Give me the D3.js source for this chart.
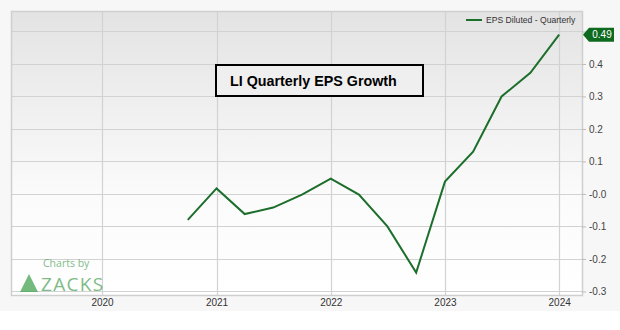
<!DOCTYPE html>
<html>
<head>
<meta charset="utf-8">
<script src="https://cdn.jsdelivr.net/npm/d3@7/dist/d3.min.js"></script>
<style>
  html, body { margin: 0; padding: 0; background: #ffffff; }
  svg { display: block; font-family: "Liberation Sans", Arial, sans-serif; }
</style>
</head>
<body>
<svg id="chart" width="620" height="330"></svg>
<script>
// ---- data ----
const quarters = ["2020-10-01","2021-01-01","2021-04-01","2021-07-01","2021-10-01","2022-01-01","2022-04-01","2022-07-01","2022-10-01","2023-01-01","2023-04-01","2023-07-01","2023-10-01","2024-01-01"];
const epsValues = [-0.08, 0.017, -0.062, -0.042, -0.002, 0.047, -0.002, -0.10, -0.242, 0.038, 0.13, 0.30, 0.373, 0.49];
const yearTicks = ["2020","2021","2022","2023","2024"];
const yTickValues = [0.5, 0.4, 0.3, 0.2, 0.1, 0.0, -0.1, -0.2, -0.3];
const yTickLabels = ["", "0.4","0.3","0.2","0.1","-0.0","-0.1","-0.2","-0.3"];
const seriesName = "EPS Diluted - Quarterly";
const chartTitle = "LI Quarterly EPS Growth";
const lastLabel = "0.49";

const svg = d3.select("#chart");
const W = 620, H = 330;
const plot = {left: 11, top: 11, right: 582, bottom: 295};
const green = "#1c6e2b";
const parse = d3.timeParse("%Y-%m-%d");

// page background
svg.append("rect").attr("x",0).attr("y",0).attr("width",W).attr("height",311).attr("fill","#f7f7f7");

const defs = svg.append("defs");
const grad = defs.append("linearGradient").attr("id","bg").attr("x1",0).attr("y1",0).attr("x2",0).attr("y2",1);
grad.append("stop").attr("offset","0%").attr("stop-color","#e3e3e3");
grad.append("stop").attr("offset","65%").attr("stop-color","#fbfbfb");
grad.append("stop").attr("offset","100%").attr("stop-color","#ffffff");

const x = d3.scaleTime()
  .domain([new Date(2019,2,16), new Date(2024,2,14)])
  .range([plot.left, plot.right]);
const y = d3.scaleLinear()
  .domain([-0.311, 0.563])
  .range([plot.bottom, plot.top]);

svg.append("rect")
  .attr("x", plot.left).attr("y", plot.top)
  .attr("width", plot.right - plot.left).attr("height", plot.bottom - plot.top)
  .attr("fill","url(#bg)");

// gridlines
const gridColor = "#d2d2d2";
svg.append("g").selectAll("line").data(yTickValues).join("line")
  .attr("x1", plot.left).attr("x2", plot.right)
  .attr("y1", d => Math.round(y(d)) + 0.5).attr("y2", d => Math.round(y(d)) + 0.5)
  .attr("stroke", gridColor).attr("stroke-width", 1.2);
const yearDates = yearTicks.map(t => parse(t + "-01-01"));
svg.append("g").selectAll("line").data(yearDates).join("line")
  .attr("y1", plot.top).attr("y2", plot.bottom)
  .attr("x1", d => Math.round(x(d)) + 0.5).attr("x2", d => Math.round(x(d)) + 0.5)
  .attr("stroke", gridColor).attr("stroke-width", 1.2);

// border
svg.append("rect")
  .attr("x", plot.left + 0.5).attr("y", plot.top + 0.5)
  .attr("width", plot.right - plot.left).attr("height", plot.bottom - plot.top)
  .attr("fill","none").attr("stroke","#cfcfcf").attr("stroke-width",1.5);

// y axis (right)
const yAxis = d3.axisRight(y)
  .tickValues(yTickValues)
  .tickSize(4).tickPadding(3)
  .tickFormat((d,i) => yTickLabels[i]);
const gy = svg.append("g").attr("transform", `translate(${plot.right},0)`).call(yAxis);
gy.select(".domain").remove();
gy.selectAll(".tick line").attr("stroke","#bbbbbb");
gy.selectAll(".tick text").attr("fill","#444").style("font-size","10px").style("font-family","'Liberation Sans', Arial, sans-serif");

// x axis (bottom)
const xAxis = d3.axisBottom(x).tickValues(yearDates).tickSize(0).tickPadding(4)
  .tickFormat((d,i) => yearTicks[i]);
const gx = svg.append("g").attr("transform", `translate(0,${plot.bottom})`).call(xAxis);
gx.select(".domain").remove();
gx.selectAll(".tick text").attr("fill","#333").style("font-size","10px").style("font-family","'Liberation Sans', Arial, sans-serif");

// Zacks watermark
const wm = svg.append("g").attr("opacity", 0.7);
wm.append("path").attr("d","M20,292 L29,274 L38,292 Z").attr("fill","#3a9e46");
wm.append("text").attr("x",43).attr("y",267).attr("fill","#4a9f55")
  .style("font-size","10.5px").style("font-family","'Open Sans', 'Liberation Sans', sans-serif").text("Charts by");
wm.append("text").attr("x",41).attr("y",291).attr("fill","#4a9f55")
  .style("font-size","19px").style("font-family","'Open Sans', 'Liberation Sans', sans-serif").style("letter-spacing","1.3px").text("ZACKS");

// line
const line = d3.line()
  .x((d,i) => x(parse(quarters[i])))
  .y(d => y(d));
svg.append("path").datum(epsValues)
  .attr("d", line).attr("fill","none").attr("stroke", green).attr("stroke-width", 2)
  .attr("stroke-linejoin","miter");

// title box
svg.append("rect").attr("x",216).attr("y",65).attr("width",207).attr("height",31)
  .attr("fill","#efefef").attr("stroke","#000").attr("stroke-width",2);
svg.append("text").attr("x",230).attr("y",86).attr("fill","#000")
  .style("font-size","14.3px").style("font-weight","bold").text(chartTitle);

// legend
svg.append("line").attr("x1",466).attr("x2",482).attr("y1",20).attr("y2",20)
  .attr("stroke", green).attr("stroke-width",2);
svg.append("text").attr("x",486).attr("y",23).attr("fill","#333")
  .style("font-size","8.6px").text(seriesName);

// last value badge
const by = y(epsValues[epsValues.length-1]);
const bx = plot.right + 1;
svg.append("path")
  .attr("d", `M${bx},${by} L${bx+6},${by-7} L${bx+31},${by-7} L${bx+31},${by+7} L${bx+6},${by+7} Z`)
  .attr("fill","#0e6a1e");
svg.append("text").attr("x", bx+19).attr("y", by+3.5).attr("text-anchor","middle")
  .attr("fill","#fff").style("font-size","10px").text(lastLabel);
</script>
</body>
</html>
